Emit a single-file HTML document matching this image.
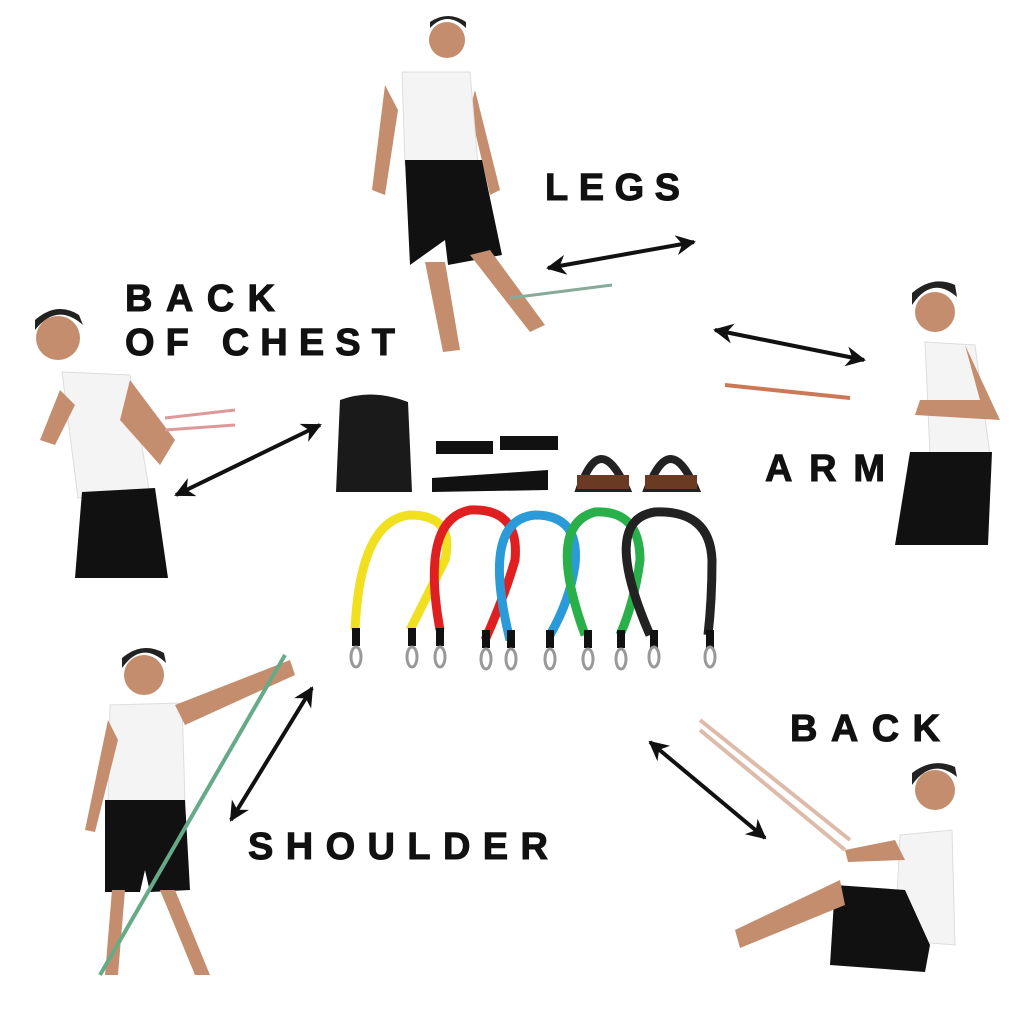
<!DOCTYPE html>
<html><head><style>
html,body{margin:0;padding:0;background:#fff;}
svg{display:block}
text{font-family:"Liberation Sans",sans-serif;font-weight:bold;fill:#111;stroke:#111;stroke-width:1}
</style></head><body>
<svg width="1024" height="1024" viewBox="0 0 1024 1024" xmlns="http://www.w3.org/2000/svg">
<defs>
<marker id="ah" viewBox="0 0 10 10" refX="9" refY="5" markerWidth="5" markerHeight="5" orient="auto-start-reverse">
<path d="M0,0 L10,5 L0,10 L3,5z" fill="#111"/></marker>
</defs>
<rect width="1024" height="1024" fill="#fff"/>

<!-- labels -->
<text x="545" y="200" font-size="38" textLength="135" lengthAdjust="spacing">LEGS</text>
<text x="125" y="311" font-size="38" textLength="150" lengthAdjust="spacing">BACK</text>
<text x="125" y="355" font-size="38" textLength="270" lengthAdjust="spacing">OF CHEST</text>
<text x="765" y="481" font-size="38" textLength="120" lengthAdjust="spacing">ARM</text>
<text x="790" y="741" font-size="38" textLength="150" lengthAdjust="spacing">BACK</text>
<text x="248" y="859" font-size="38" textLength="300" lengthAdjust="spacing">SHOULDER</text>

<!-- arrows -->
<g stroke="#111" stroke-width="4" fill="none" marker-start="url(#ah)" marker-end="url(#ah)">
<line x1="548" y1="268" x2="694" y2="242"/>
<line x1="320" y1="425" x2="176" y2="495"/>
<line x1="715" y1="330" x2="864" y2="360"/>
<line x1="312" y1="688" x2="231" y2="820"/>
<line x1="650" y1="742" x2="765" y2="838"/>
</g>

<!-- top man -->
<g>
<circle cx="447" cy="40" r="18" fill="#c48d6e"/>
<path d="M430,28 q17,-18 36,0 l0,-6 q-18,-12 -36,0z" fill="#222"/>
<path d="M385,85 L372,190 L385,195 L398,110z M475,90 L500,190 L490,195 L470,110z" fill="#c48d6e"/>
<path d="M402,72 L470,72 L478,165 L405,165z" fill="#f4f4f4" stroke="#ddd"/>
<path d="M405,160 L482,160 L502,255 L448,265 L445,240 L410,265z" fill="#111"/>
<path d="M425,262 L445,262 L460,350 L443,352z M470,255 L490,250 L545,325 L530,332z" fill="#c48d6e"/>
<line x1="510" y1="298" x2="612" y2="285" stroke="#8a9" stroke-width="3"/>
</g>

<!-- left man -->
<g>
<circle cx="58" cy="338" r="22" fill="#c48d6e"/>
<path d="M35,330 q22,-28 48,-5 l-4,-10 q-22,-14 -44,5z" fill="#222"/>
<path d="M62,372 L130,375 L150,495 L78,498z" fill="#f4f4f4" stroke="#ddd"/>
<path d="M130,380 L175,440 L160,465 L120,420z M60,390 L40,440 L55,445 L75,405z" fill="#c48d6e"/>
<path d="M82,492 L155,488 L168,578 L75,578z" fill="#111"/>
<path d="M165,418 L235,410 M165,430 L235,425" stroke="#d99" stroke-width="3"/>
</g>

<!-- right man arm -->
<g>
<circle cx="935" cy="312" r="20" fill="#c48d6e"/>
<path d="M912,305 q20,-30 45,-8 l-2,-12 q-22,-10 -43,8z" fill="#222"/>
<path d="M925,342 L975,345 L990,455 L930,455z" fill="#f4f4f4" stroke="#ddd"/>
<path d="M965,345 L1000,420 L915,415 L920,400 L980,400z" fill="#c48d6e"/>
<path d="M910,452 L992,452 L988,545 L895,545z" fill="#111"/>
<path d="M725,385 L850,398" stroke="#c75" stroke-width="4"/>
</g>

<!-- bottom left shoulder -->
<g>
<circle cx="144" cy="675" r="20" fill="#c48d6e"/>
<path d="M122,668 q20,-28 44,-5 l-2,-10 q-22,-12 -42,5z" fill="#222"/>
<path d="M110,705 L182,703 L185,803 L108,803z" fill="#f4f4f4" stroke="#ddd"/>
<path d="M175,705 L290,660 L295,675 L185,725z M108,720 L85,830 L95,832 L118,740z" fill="#c48d6e"/>
<path d="M105,800 L185,800 L190,890 L150,892 L145,870 L140,892 L105,892z" fill="#111"/>
<path d="M112,890 L125,890 L118,975 L105,975z M160,890 L175,890 L210,975 L195,975z" fill="#c48d6e"/>
<line x1="100" y1="975" x2="285" y2="655" stroke="#6a8" stroke-width="4"/>
</g>

<!-- bottom right back -->
<g>
<circle cx="935" cy="790" r="20" fill="#c48d6e"/>
<path d="M912,785 q20,-28 45,-8 l-2,-10 q-22,-10 -43,6z" fill="#222"/>
<path d="M900,835 L952,830 L955,945 L895,940z" fill="#f4f4f4" stroke="#ddd"/>
<path d="M895,840 L845,850 L848,862 L905,860z" fill="#c48d6e"/>
<path d="M835,885 L905,890 L930,945 L925,972 L830,965z" fill="#111"/>
<path d="M840,880 L735,930 L740,948 L845,905z" fill="#c48d6e"/>
<path d="M700,720 L850,840 M700,730 L845,850" stroke="#dba" stroke-width="4"/>
</g>

<!-- center items -->
<path d="M340,400 Q372,388 408,402 L412,492 L336,492z" fill="#1a1a1a"/>
<rect x="436" y="441" width="57" height="13" fill="#111"/>
<rect x="500" y="436" width="58" height="14" fill="#111"/>
<path d="M432,478 L548,470 L548,490 L432,492z" fill="#111"/>
<path d="M580,488 Q600,430 626,488z" fill="none" stroke="#222" stroke-width="8"/>
<rect x="577" y="475" width="52" height="14" fill="#6b3a22"/>
<path d="M648,488 Q670,430 695,488z" fill="none" stroke="#222" stroke-width="8"/>
<rect x="645" y="475" width="52" height="14" fill="#6b3a22"/>

<g fill="none" stroke-width="9">
<path d="M355,630 Q360,520 410,515 Q455,515 445,560 Q430,590 410,630" stroke="#f0e020"/>
<path d="M440,630 Q420,520 470,510 Q520,508 515,560 Q505,595 485,640" stroke="#e02020"/>
<path d="M510,640 Q480,520 535,515 Q580,515 575,565 Q570,600 550,635" stroke="#2a9ad8"/>
<path d="M585,635 Q545,525 595,512 Q640,510 640,560 Q635,600 620,635" stroke="#2ab04a"/>
<path d="M650,635 Q600,520 655,512 Q710,510 712,560 Q712,600 708,635" stroke="#222"/>
</g>
<g fill="#111">
<rect x="352" y="628" width="8" height="18"/><rect x="408" y="628" width="8" height="18"/>
<rect x="436" y="628" width="8" height="18"/><rect x="482" y="630" width="8" height="18"/>
<rect x="507" y="630" width="8" height="18"/><rect x="546" y="630" width="8" height="18"/>
<rect x="584" y="630" width="8" height="18"/><rect x="617" y="630" width="8" height="18"/>
<rect x="650" y="630" width="8" height="18"/><rect x="706" y="630" width="8" height="18"/>
</g>
<g fill="none" stroke="#999" stroke-width="3">
<ellipse cx="356" cy="657" rx="5" ry="10"/><ellipse cx="412" cy="657" rx="5" ry="10"/>
<ellipse cx="440" cy="657" rx="5" ry="10"/><ellipse cx="486" cy="659" rx="5" ry="10"/>
<ellipse cx="511" cy="659" rx="5" ry="10"/><ellipse cx="550" cy="659" rx="5" ry="10"/>
<ellipse cx="588" cy="659" rx="5" ry="10"/><ellipse cx="621" cy="659" rx="5" ry="10"/>
<ellipse cx="654" cy="657" rx="5" ry="10"/><ellipse cx="710" cy="657" rx="5" ry="10"/>
</g>
</svg>
</body></html>
